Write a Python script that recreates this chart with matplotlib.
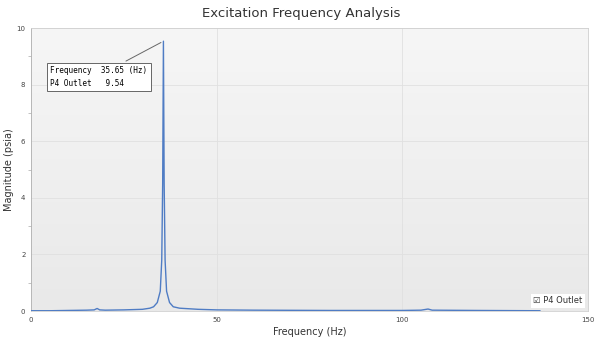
import numpy as np
import matplotlib
matplotlib.use("Agg")
import matplotlib.pyplot as plt
from matplotlib.colors import LinearSegmentedColormap
from matplotlib.ticker import MultipleLocator

# values
freq = [0, 5, 10, 15, 17, 17.8, 18.5, 20, 25, 30, 32, 33, 34, 34.8, 35.2, 35.45,
        35.65, 35.85, 36.1, 36.5, 37.3, 38.3, 40, 45, 50, 60, 80, 100, 105, 106.9,
        108, 120, 137]
mag = [0.01, 0.01, 0.02, 0.03, 0.04, 0.09, 0.04, 0.03, 0.04, 0.06, 0.1, 0.15, 0.3,
       0.7, 1.8, 4.5, 9.54, 4.5, 1.8, 0.7, 0.3, 0.15, 0.1, 0.06, 0.04, 0.03, 0.02,
       0.02, 0.03, 0.07, 0.03, 0.02, 0.01]
peak_freq = 35.65
peak_mag = 9.54
series_name = "P4 Outlet"

fig = plt.figure(figsize=(6.02, 3.42), dpi=100)
ax = fig.add_axes([0.0515, 0.0906, 0.9255, 0.827])

# background gradient (light at top, slightly darker at bottom)
bg = LinearSegmentedColormap.from_list("bg", ["#f6f6f6", "#e9e9e9"])
grad = np.linspace(0, 1, 256).reshape(-1, 1)
ax.imshow(grad, extent=[0, 150, 0, 10], aspect="auto", cmap=bg,
          origin="upper", zorder=0)

ax.plot(freq, mag, color="#4f7cc4", lw=1.0, zorder=3)

ax.set_xlim(0, 150)
ax.set_ylim(0, 10)
ax.set_xticks([0, 50, 100, 150])
ax.set_yticks([0, 2, 4, 6, 8, 10])
ax.yaxis.set_minor_locator(MultipleLocator(1))
ax.grid(True, color="#e0e0e0", lw=0.6, zorder=1)
ax.set_axisbelow(True)
ax.tick_params(labelsize=5, length=0, colors="#444444", pad=4)
ax.tick_params(axis="y", which="minor", length=2, color="#aaaaaa", width=0.5)
for s in ax.spines.values():
    s.set_color("#d0d0d0")
    s.set_linewidth(0.6)
ax.spines["left"].set_color("#b0b0b0")

ax.set_xlabel("Frequency (Hz)", fontsize=7, color="#333333", labelpad=3)
ax.set_ylabel("Magnitude (psia)", fontsize=7, color="#333333")
ax.yaxis.set_label_coords(-0.03, 0.5)
fig.suptitle("Excitation Frequency Analysis", fontsize=9.5, color="#333333", y=0.98)

ax.annotate("Frequency  %.2f (Hz)\n%s   %.2f" % (peak_freq, series_name, peak_mag),
            xy=(peak_freq, peak_mag), xytext=(5.2, 8.27),
            fontsize=5.5, family="DejaVu Sans Mono", linespacing=1.55,
            va="center", ha="left",
            bbox=dict(boxstyle="square,pad=0.45", fc="white", ec="#666666", lw=0.7),
            arrowprops=dict(arrowstyle="-", color="#666666", lw=0.7,
                            relpos=(0.68, 1.0)),
            zorder=5)

ax.text(0.99, 0.02, "\u2611 " + series_name, transform=ax.transAxes,
        fontsize=6, ha="right", va="bottom", color="#333333",
        bbox=dict(boxstyle="square,pad=0.3", fc="white", ec="none"), zorder=5)

fig.savefig("out.png", dpi=100)
